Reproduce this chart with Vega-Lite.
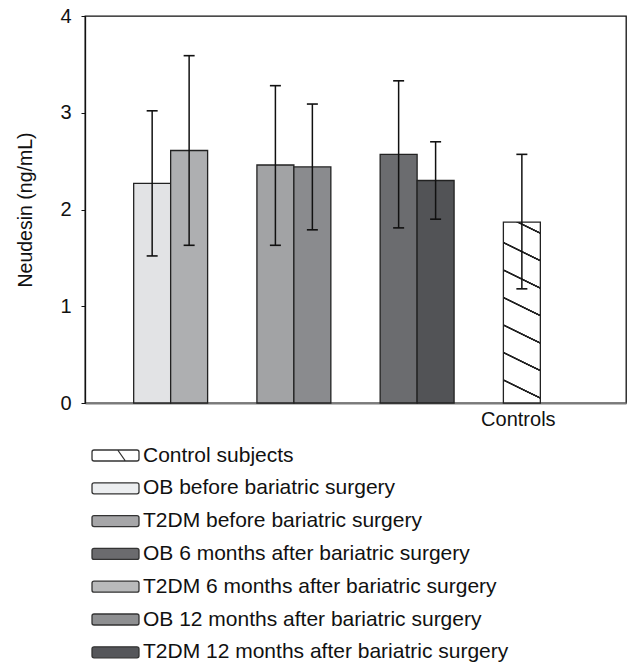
{
  "$schema": "https://vega.github.io/schema/vega-lite/v6.json",
  "width": 541,
  "height": 387,
  "autosize": {"type": "none"},
  "padding": {"left": 85, "top": 16, "right": 3, "bottom": 266},
  "background": "white",
  "config": {
    "font": "Liberation Sans",
    "view": {"stroke": "#111", "strokeWidth": 1.3}
  },
  "data": {
    "values": [
      {"group": "G1", "slot": "a", "series": "OB before bariatric surgery", "mean": 2.27, "lo": 1.52, "hi": 3.02},
      {"group": "G1", "slot": "b", "series": "T2DM before bariatric surgery", "mean": 2.61, "lo": 1.63, "hi": 3.59},
      {"group": "G2", "slot": "a", "series": "OB 6 months after bariatric surgery", "mean": 2.46, "lo": 1.63, "hi": 3.28},
      {"group": "G2", "slot": "b", "series": "T2DM 6 months after bariatric surgery", "mean": 2.44, "lo": 1.79, "hi": 3.09},
      {"group": "G3", "slot": "a", "series": "OB 12 months after bariatric surgery", "mean": 2.57, "lo": 1.81, "hi": 3.33},
      {"group": "G3", "slot": "b", "series": "T2DM 12 months after bariatric surgery", "mean": 2.30, "lo": 1.90, "hi": 2.70},
      {"group": "Controls", "slot": "a", "series": "Control subjects", "mean": 1.87, "lo": 1.18, "hi": 2.57}
    ]
  },
  "encoding": {
    "x": {
      "field": "group",
      "type": "nominal",
      "scale": {"domain": ["G1", "G2", "G3", "Controls"], "paddingInner": 0.4, "paddingOuter": 0.395},
      "axis": {"title": null, "labelAngle": 0, "ticks": false, "domainColor": "#7a7a7a", "domainWidth": 2, "labelFontSize": 20, "labelColor": "#111", "labelPadding": 6, "labelOffset": -22, "labelExpr": "datum.value == 'Controls' ? 'Controls' : ''"}
    },
    "xOffset": {"field": "slot", "type": "nominal", "scale": {"domain": ["a", "b"], "paddingInner": 0, "paddingOuter": 0}}
  },
  "layer": [
    {
      "mark": {"type": "bar", "opacity": 0},
      "encoding": {
        "y": {
          "field": "mean", "type": "quantitative", "title": "Neudesin (ng/mL)", "scale": {"domain": [0, 4]},
          "axis": {"values": [0, 1, 2, 3, 4], "format": "d", "labelFontSize": 20, "labelColor": "#111", "labelPadding": 10, "tickSize": 4, "tickColor": "#111", "domainColor": "#111", "domainWidth": 1.3, "grid": false, "titleFontSize": 19.5, "titleFontWeight": "normal", "titleColor": "#111", "titlePadding": 24}
        },
        "color": {
          "field": "series",
          "type": "nominal",
          "scale": {
            "domain": ["Control subjects", "OB before bariatric surgery", "T2DM before bariatric surgery", "OB 6 months after bariatric surgery", "T2DM 6 months after bariatric surgery", "OB 12 months after bariatric surgery", "T2DM 12 months after bariatric surgery"],
            "range": ["#ffffff", "#eceef0", "#a6a6a8", "#6b6b6e", "#b9babb", "#8e8f91", "#55565a"]
          },
          "legend": {
            "orient": "none",
            "legendX": 20,
            "legendY": 429,
            "title": null,
            "padding": 0,
            "direction": "vertical",
            "labelFontSize": 21,
            "labelColor": "#111",
            "labelLimit": 600,
            "labelOffset": 17,
            "rowPadding": 10.8,
            "symbolSize": 121,
            "encode": {
              "symbols": {
                "update": {
                  "opacity": {"value": 1},
                  "fillOpacity": {"value": 1},
                  "stroke": {"value": "#333"},
                  "strokeWidth": {"value": 1.3},
                  "shape": {"signal": "datum.label == 'Control subjects' ? 'M-3.9,-1H3.9Q4.27,-1 4.27,-0.64V0.64Q4.27,1 3.9,1H-3.9Q-4.27,1 -4.27,0.64V-0.64Q-4.27,-1 -3.9,-1ZM0.4,-1L1.8,1' : 'M-3.9,-1H3.9Q4.27,-1 4.27,-0.64V0.64Q4.27,1 3.9,1H-3.9Q-4.27,1 -4.27,0.64V-0.64Q-4.27,-1 -3.9,-1Z'"}
                }
              }
            }
          }
        }
      }
    },
    {
      "transform": [{"filter": "datum.series != 'Control subjects'"}],
      "mark": {"type": "bar", "stroke": "#222", "strokeWidth": 1.3},
      "encoding": {
        "y": {"field": "mean", "type": "quantitative", "title": "Neudesin (ng/mL)"},
        "fill": {
          "field": "series",
          "type": "nominal",
          "legend": null,
          "scale": {
            "domain": ["Control subjects", "OB before bariatric surgery", "T2DM before bariatric surgery", "OB 6 months after bariatric surgery", "T2DM 6 months after bariatric surgery", "OB 12 months after bariatric surgery", "T2DM 12 months after bariatric surgery"],
            "range": ["#ffffff", "#e2e3e5", "#aeafb1", "#a2a3a5", "#8a8b8e", "#6b6c6f", "#525356"]
          }
        }
      }
    },
    {
      "transform": [{"filter": "datum.series == 'Control subjects'"}],
      "mark": {
        "type": "bar",
        "stroke": "#222",
        "strokeWidth": 1.3,
        "fill": {
          "gradient": "linear",
          "x1": 1, "y1": 0, "x2": 0.891, "y2": 1.089,
          "stops": [
            {"offset": 0, "color": "#ffffff"},
            {"offset": 0.0493, "color": "#ffffff"}, {"offset": 0.0523, "color": "#222222"}, {"offset": 0.0593, "color": "#222222"}, {"offset": 0.0623, "color": "#ffffff"},
            {"offset": 0.1874, "color": "#ffffff"}, {"offset": 0.1904, "color": "#222222"}, {"offset": 0.1974, "color": "#222222"}, {"offset": 0.2004, "color": "#ffffff"},
            {"offset": 0.3255, "color": "#ffffff"}, {"offset": 0.3285, "color": "#222222"}, {"offset": 0.3355, "color": "#222222"}, {"offset": 0.3385, "color": "#ffffff"},
            {"offset": 0.4636, "color": "#ffffff"}, {"offset": 0.4666, "color": "#222222"}, {"offset": 0.4736, "color": "#222222"}, {"offset": 0.4766, "color": "#ffffff"},
            {"offset": 0.6017, "color": "#ffffff"}, {"offset": 0.6047, "color": "#222222"}, {"offset": 0.6117, "color": "#222222"}, {"offset": 0.6147, "color": "#ffffff"},
            {"offset": 0.7399, "color": "#ffffff"}, {"offset": 0.7429, "color": "#222222"}, {"offset": 0.7499, "color": "#222222"}, {"offset": 0.7529, "color": "#ffffff"},
            {"offset": 0.8780, "color": "#ffffff"}, {"offset": 0.8810, "color": "#222222"}, {"offset": 0.8880, "color": "#222222"}, {"offset": 0.8910, "color": "#ffffff"},
            {"offset": 1, "color": "#ffffff"}
          ]
        }
      },
      "encoding": {
        "y": {"field": "mean", "type": "quantitative", "title": "Neudesin (ng/mL)"}
      }
    },
    {
      "mark": {"type": "rule", "color": "#111", "strokeWidth": 1.5},
      "encoding": {
        "y": {"field": "lo", "type": "quantitative", "title": "Neudesin (ng/mL)"},
        "y2": {"field": "hi"}
      }
    },
    {
      "mark": {"type": "tick", "color": "#111", "thickness": 1.6, "size": 11, "opacity": 1},
      "encoding": {
        "y": {"field": "lo", "type": "quantitative", "title": "Neudesin (ng/mL)"}
      }
    },
    {
      "mark": {"type": "tick", "color": "#111", "thickness": 1.6, "size": 11, "opacity": 1},
      "encoding": {
        "y": {"field": "hi", "type": "quantitative", "title": "Neudesin (ng/mL)"}
      }
    }
  ]
}
